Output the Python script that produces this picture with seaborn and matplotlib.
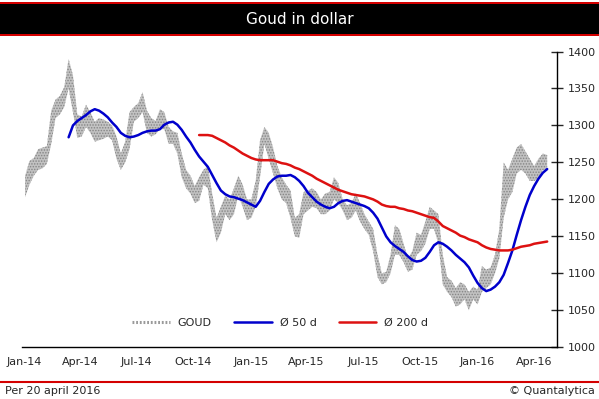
import matplotlib
matplotlib.use("Agg")
import matplotlib.pyplot as plt
import matplotlib.dates as mdates
from matplotlib.lines import Line2D
from matplotlib.patches import Rectangle
import seaborn as sns
import pandas as pd

sns.set_style("white")
plt.rcParams["font.family"] = ["DejaVu Sans"]
plt.rcParams["hatch.linewidth"] = 0.7

# weekly low / high of the gold band (USD), first week ending 3 Jan 2014
gold_start = "2014-01-03"
gold_lo = [1203, 1220, 1232, 1240, 1242, 1248, 1275, 1310, 1315, 1325,
           1350, 1318, 1283, 1285, 1298, 1290, 1278, 1280, 1282, 1285,
           1280, 1255, 1240, 1250, 1268, 1305, 1310, 1318, 1290, 1285,
           1288, 1295, 1295, 1275, 1275, 1262, 1230, 1215, 1208, 1195,
           1198, 1220, 1215, 1172, 1142, 1155, 1180, 1172, 1180, 1205,
           1190, 1172, 1175, 1190, 1230, 1275, 1255, 1235, 1215, 1200,
           1195, 1175, 1150, 1148, 1180, 1185, 1190, 1188, 1180, 1180,
           1185, 1200, 1195, 1185, 1172, 1175, 1185, 1170, 1160, 1152,
           1130, 1095, 1085, 1088, 1100, 1125, 1125, 1115, 1102, 1105,
           1125, 1130, 1140, 1160, 1160, 1140, 1085, 1075, 1068, 1055,
           1058, 1065, 1050, 1065, 1058, 1075, 1080, 1085, 1100, 1120,
           1175, 1200, 1210, 1235, 1240, 1235, 1225, 1225, 1228, 1240,
           1240]
gold_hi = [1232, 1252, 1256, 1268, 1270, 1272, 1320, 1335, 1340, 1352,
           1390, 1368, 1315, 1312, 1328, 1318, 1305, 1310, 1308, 1305,
           1300, 1285, 1262, 1278, 1318, 1325, 1330, 1345, 1320, 1310,
           1306, 1322, 1318, 1298, 1292, 1290, 1262, 1240, 1232, 1218,
           1230, 1240, 1245, 1208, 1175, 1190, 1205, 1200, 1215, 1232,
           1220, 1200, 1200, 1225, 1280, 1298, 1290, 1270, 1245, 1230,
           1220, 1212, 1175, 1180, 1210, 1212, 1215, 1210, 1200, 1208,
           1210, 1230, 1222, 1200, 1192, 1195, 1208, 1195, 1180, 1170,
           1160, 1125, 1100, 1102, 1125, 1165, 1160, 1140, 1120, 1130,
           1155, 1152, 1170, 1190, 1185, 1180, 1125, 1095, 1090, 1080,
           1088, 1085, 1075, 1082, 1078, 1110, 1105, 1108, 1125, 1160,
           1250, 1240, 1255, 1270, 1275, 1265, 1255, 1245, 1255, 1262,
           1260]

# 50-day average, weekly readings
ma50_start = "2014-03-14"
ma50 = [1284, 1300, 1306, 1310, 1314, 1319, 1322, 1320, 1316, 1311,
        1304, 1298, 1290, 1286, 1284, 1285, 1287, 1290, 1292, 1293,
        1293, 1295, 1301, 1304, 1305, 1301, 1294, 1285, 1277, 1267,
        1258, 1251, 1244, 1233, 1222, 1212, 1207, 1204, 1203, 1201,
        1199, 1196, 1193, 1190, 1198, 1210, 1221, 1227, 1231, 1232,
        1232, 1233, 1230, 1225, 1218, 1209, 1203, 1197, 1193, 1190,
        1188, 1190, 1195, 1198, 1199, 1197, 1195, 1193, 1191, 1188,
        1182, 1174, 1162, 1150, 1142, 1137, 1133, 1129, 1123, 1118,
        1116, 1117, 1121, 1129, 1138, 1142, 1140, 1136, 1131, 1125,
        1120, 1115, 1108, 1097, 1087, 1080, 1076, 1078, 1082, 1088,
        1098, 1114, 1131, 1152, 1172, 1190, 1206, 1218, 1228, 1236,
        1241]

# 200-day average, weekly readings
ma200_start = "2014-10-10"
ma200 = [1287, 1287, 1287, 1286, 1283, 1280, 1277, 1273, 1270, 1266,
         1262, 1259, 1256, 1254, 1253, 1253, 1253, 1253, 1251, 1249,
         1248, 1246, 1243, 1241, 1238, 1235, 1232, 1228, 1225, 1222,
         1219, 1216, 1213, 1211, 1209, 1207, 1206, 1205, 1204, 1202,
         1200, 1197, 1193, 1191, 1190, 1190, 1188, 1187, 1185, 1184,
         1182, 1180, 1178, 1176, 1175, 1170, 1164, 1161, 1158, 1155,
         1151, 1149, 1146, 1144, 1142, 1138, 1135, 1133, 1132, 1131,
         1131, 1131, 1132, 1134, 1136, 1137, 1138, 1140, 1141, 1142,
         1143]

series_labels = ["GOUD", "Ø 50 d", "Ø 200 d"]

gold_dates = pd.date_range(gold_start, periods=len(gold_lo), freq="W-FRI")
ma50_dates = pd.date_range(ma50_start, periods=len(ma50), freq="W-FRI")
ma200_dates = pd.date_range(ma200_start, periods=len(ma200), freq="W-FRI")

W, H = 599, 399
fig = plt.figure(figsize=(W / 100, H / 100), dpi=100)

# title bar
fig.add_artist(Rectangle((0, 1 - 36 / H), 1, 34.5 / H, transform=fig.transFigure,
                         facecolor="#d40000", edgecolor="none"))
fig.add_artist(Rectangle((0, 1 - 33.5 / H), 1, 29.5 / H, transform=fig.transFigure,
                         facecolor="black", edgecolor="none"))
fig.text(0.5, 1 - 19 / H, "Goud in dollar", color="white", ha="center",
         va="center", fontsize=11)

ax = fig.add_axes([22 / W, 51.7 / H, 534.5 / W, 295.8 / H])

ax.fill_between(gold_dates, gold_lo, gold_hi, facecolor="#c2c2c2",
                edgecolor="#858585", hatch="......", linewidth=0)
sns.lineplot(x=ma50_dates, y=ma50, ax=ax, color="#0000cc", linewidth=1.8)
sns.lineplot(x=ma200_dates, y=ma200, ax=ax, color="#dd1111", linewidth=1.8)

ax.set_xlim(pd.Timestamp("2013-12-29"), pd.Timestamp("2016-05-07"))
ax.set_ylim(1000, 1400)
ax.set_xlabel("")
ax.set_ylabel("")

ax.xaxis.set_major_locator(mdates.MonthLocator(bymonth=[1, 4, 7, 10]))
ax.xaxis.set_major_formatter(mdates.DateFormatter("%b-%y"))
ax.set_yticks(range(1000, 1401, 50))
ax.yaxis.tick_right()
ax.tick_params(axis="x", direction="in", length=5, width=1, labelsize=8, pad=7)
ax.tick_params(axis="y", direction="inout", length=9, width=1, labelsize=8, pad=4)

for side in ["top", "left"]:
    ax.spines[side].set_visible(False)
for side in ["bottom", "right"]:
    ax.spines[side].set_color("black")
    ax.spines[side].set_linewidth(1)

handles = [
    Line2D([], [], color="#9a9a9a", linewidth=2.2, linestyle=(0, (0.6, 0.6))),
    Line2D([], [], color="#0000cc", linewidth=1.8),
    Line2D([], [], color="#dd1111", linewidth=1.8),
]
ax.legend(handles, series_labels, loc="center", bbox_to_anchor=(0.483, 0.082),
          ncol=3, frameon=False, fontsize=8, handlelength=3.4,
          handletextpad=0.7, columnspacing=2.0)

# footer
fig.add_artist(Line2D([0, 1], [1 - 381.5 / H] * 2, transform=fig.transFigure,
                      color="#d40000", linewidth=1.5))
fig.text(5 / W, 1 - 391 / H, "Per 20 april 2016", ha="left", va="center", fontsize=8)
fig.text(595 / W, 1 - 391 / H, "© Quantalytica", ha="right", va="center", fontsize=8)

fig.savefig("out.png", dpi=100)
